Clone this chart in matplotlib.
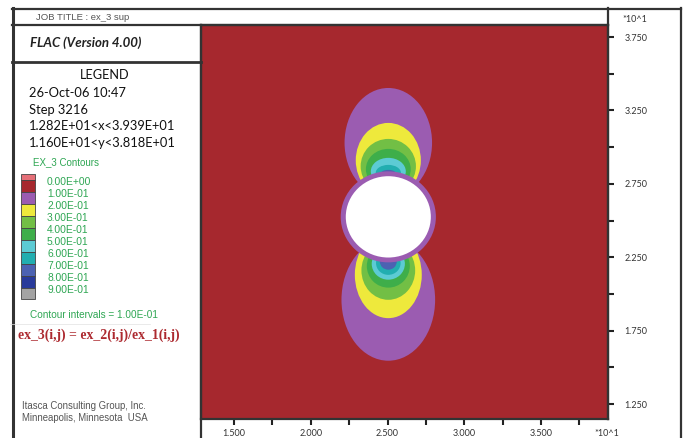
import matplotlib
matplotlib.use("Agg")
import matplotlib.pyplot as plt
from matplotlib.patches import Ellipse, Rectangle
from matplotlib.lines import Line2D
from matplotlib.ticker import FixedLocator, FuncFormatter

# ---------------- data ----------------
x_range = (12.85, 39.36)
y_range = (11.48, 38.32)
x_major = [15.0, 20.0, 25.0, 30.0, 35.0]
x_minor = [17.5, 22.5, 27.5, 32.5, 37.5]
y_major = [12.5, 17.5, 22.5, 27.5, 32.5, 37.5]
y_minor = [15.0, 20.0, 25.0, 30.0, 35.0]

level_labels = ["0.00E+00", "1.00E-01", "2.00E-01", "3.00E-01", "4.00E-01",
                "5.00E-01", "6.00E-01", "7.00E-01", "8.00E-01", "9.00E-01"]
swatch_colors = ["#e56f78", "#a6282e", "#9b5cb1", "#eee93c", "#72bf45",
                 "#3eae4a", "#5ccbd4", "#22aeb0", "#4c62b2", "#283a9a", "#a3a3a3"]
background_color = "#a6282e"

# contour lobes (outer -> inner): centre y, half width, half height (data units)
lobe_colors = ["#9b5cb1", "#eee93c", "#72bf45", "#3eae4a", "#5ccbd4", "#22aeb0", "#4c62b2"]
upper_cx = 25.05
upper_cy = [30.3, 29.1, 28.7, 28.5, 28.35, 28.25, 28.2]
upper_hw = [2.85, 2.12, 1.8, 1.46, 1.14, 0.82, 0.5]
upper_hh = [3.73, 2.55, 1.86, 1.38, 0.92, 0.54, 0.25]
lower_cx = 25.05
lower_cy = [19.6, 21.3, 21.6, 21.9, 22.05, 22.1, 22.2]
lower_hw = [3.05, 2.18, 1.75, 1.4, 1.08, 0.8, 0.55]
lower_hh = [4.15, 2.95, 2.0, 1.47, 1.08, 0.8, 0.55]

tunnel_center = (25.05, 25.25)
tunnel_radius = 3.1
ring_width = 0.33

# ---------------- figure ----------------
W, H = 686, 438
fig = plt.figure(figsize=(W / 100, H / 100), dpi=100)

def fx(px):
    return px / W

def fy(py):
    return 1 - py / H

ax = fig.add_axes([fx(201), fy(419), fx(608) - fx(201), fy(25) - fy(419)])
ax.set_facecolor(background_color)
ax.set_xlim(*x_range)
ax.set_ylim(*y_range)

for cy, hw, hh, c in zip(upper_cy, upper_hw, upper_hh, lobe_colors):
    ax.add_patch(Ellipse((upper_cx, cy), 2 * hw, 2 * hh, facecolor=c, edgecolor="none"))
for cy, hw, hh, c in zip(lower_cy, lower_hw, lower_hh, lobe_colors):
    ax.add_patch(Ellipse((lower_cx, cy), 2 * hw, 2 * hh, facecolor=c, edgecolor="none"))
ax.add_patch(Ellipse(tunnel_center, 2 * tunnel_radius, 2 * tunnel_radius,
                     facecolor=lobe_colors[0], edgecolor="none"))
ax.add_patch(Ellipse(tunnel_center, 2 * (tunnel_radius - ring_width),
                     2 * (tunnel_radius - ring_width), facecolor="white", edgecolor="none"))

# ticks
ax.xaxis.set_major_locator(FixedLocator(x_major))
ax.xaxis.set_minor_locator(FixedLocator(x_minor))
ax.yaxis.set_major_locator(FixedLocator(y_major))
ax.yaxis.set_minor_locator(FixedLocator(y_minor))
fmt = FuncFormatter(lambda v, p: f"{v / 10:.3f}")
ax.xaxis.set_major_formatter(fmt)
ax.yaxis.set_major_formatter(fmt)
ax.yaxis.tick_right()
ax.tick_params(axis="both", which="both", direction="out", length=4, width=1.5, color="#222222")
ax.tick_params(axis="x", which="major", labelsize=6.5, pad=3.5, labelcolor="#333333")
ax.tick_params(axis="y", which="major", labelsize=6.5, pad=8, labelcolor="#333333")
for lab in ax.get_xticklabels() + ax.get_yticklabels():
    lab.set_family("Lato")
for s in ax.spines.values():
    s.set_color("#333333")
    s.set_linewidth(1.6)

# overlay for frame and legend text
ov = fig.add_axes([0, 0, 1, 1], zorder=5)
ov.set_xlim(0, W)
ov.set_ylim(H, 0)
ov.axis("off")

def line(x0, y0, x1, y1, lw=1.6, c="#333333"):
    ov.add_line(Line2D([x0, x1], [y0, y1], lw=lw, color=c, clip_on=False))

line(12, 8.5, 681, 8.5)
line(12.5, 8, 12.5, 438, lw=2.2)
line(680.5, 8, 680.5, 438)
line(12, 25, 608, 25)
line(12, 62, 201, 62, lw=2.0)
line(201, 25, 201, 438)
line(608, 8, 608, 419)
line(10, 324, 150, 324, lw=0.5, c="#e2e2e2")

grey = "#555555"
ov.text(36, 17, "JOB TITLE : ex_3 sup", fontsize=6.8, family="Liberation Sans",
        color=grey, va="center")
ov.text(30, 43, "FLAC (Version 4.00)", fontsize=9.5, family="Lato", weight="bold",
        style="italic", color="#222222", va="center")
ov.text(105, 75, "LEGEND", fontsize=9.2, family="Lato", color="#111111", va="center", ha="center")
for yy, t in zip([93, 110, 126, 143],
                 ["26-Oct-06 10:47", "Step 3216", "1.282E+01<x<3.939E+01",
                  "1.160E+01<y<3.818E+01"]):
    ov.text(29, yy, t, fontsize=9.3, family="Lato", color="#111111", va="center")

green = "#2ea653"
ov.text(33, 162, "EX_3 Contours", fontsize=7, family="Liberation Sans", color=green, va="center")

bounds = [174] + [180 + 12 * k for k in range(10)] + [299]
for i, c in enumerate(swatch_colors):
    ov.add_patch(Rectangle((21, bounds[i]), 14, bounds[i + 1] - bounds[i],
                           facecolor=c, edgecolor="#444444", lw=0.6, clip_on=False))
for k, lab in enumerate(level_labels):
    ov.text(47, 182 + 12 * k, lab, fontsize=7.4, family="Liberation Sans", color=green, va="center")

ov.text(30, 315, "Contour intervals = 1.00E-01", fontsize=7.2, family="Liberation Sans",
        color=green, va="center")
ov.text(18, 335, "ex_3(i,j) = ex_2(i,j)/ex_1(i,j)", fontsize=9.9, family="Liberation Serif",
        weight="bold", color="#ad2a30", va="center")
ov.text(22, 406, "Itasca Consulting Group, Inc.", fontsize=6.9, family="Liberation Sans",
        color=grey, va="center")
ov.text(22, 418, "Minneapolis, Minnesota  USA", fontsize=6.9, family="Liberation Sans",
        color=grey, va="center")

ov.text(622, 20, "*10^1", fontsize=6.5, family="Lato", color="#333333", va="center")
ov.text(594, 433, "*10^1", fontsize=6.5, family="Lato", color="#333333", va="center")

fig.savefig("out.png", dpi=100)
